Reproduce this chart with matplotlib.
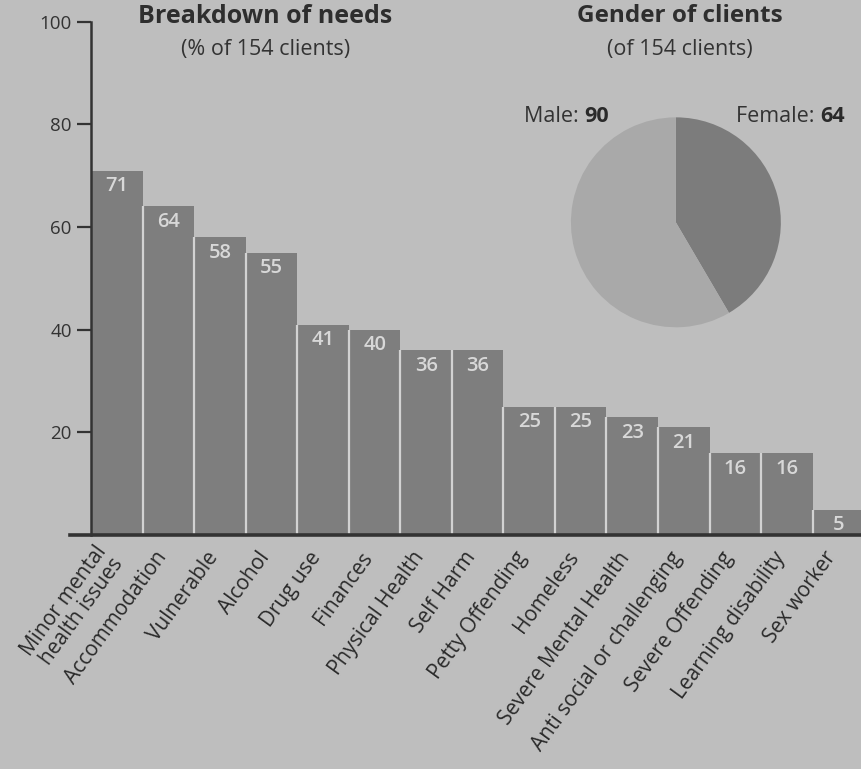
import matplotlib
matplotlib.use("Agg")
import matplotlib.pyplot as plt
import matplotlib.transforms as mtrans

# ---- data ----
categories = ["Minor mental\nhealth issues", "Accommodation", "Vulnerable", "Alcohol",
              "Drug use", "Finances", "Physical Health", "Self Harm", "Petty Offending",
              "Homeless", "Severe Mental Health", "Anti social or challenging",
              "Severe Offending", "Learning disability", "Sex worker"]
needs = [71, 64, 58, 55, 41, 40, 36, 36, 25, 25, 23, 21, 16, 16, 5]
y_ticks = [20, 40, 60, 80, 100]

gender_labels = ["Female", "Male"]
gender_counts = [64, 90]

# ---- style ----
plt.rcParams['font.family'] = ['Open Sans', 'DejaVu Sans']
BG = "#bebebe"
BAR = "#7e7e7e"
DARK = "#333333"
SEP = "#d2d2d2"

fig = plt.figure(figsize=(8.61, 7.69), dpi=100, facecolor=BG)

# ---- bar chart ----
ax = fig.add_axes([0.106, 0.304, 0.894, 0.668])
ax.set_facecolor(BG)
x = list(range(len(needs)))
ax.bar(x, needs, width=1.0, color=BAR, linewidth=0, zorder=2)
# light separators between neighbouring bars
for i in range(len(needs) - 1):
    ax.vlines(i + 0.5, 0, min(needs[i], needs[i + 1]), color=SEP, lw=1.6, zorder=3)
ax.set_xlim(-0.5, 14.44)
ax.set_ylim(0, 100)

for xi, v in zip(x, needs):
    ax.annotate(str(v), xy=(xi, v), xytext=(0, -4), textcoords="offset points",
                ha="center", va="top", fontsize=14.5, fontweight="semibold",
                color="#d8d8d8", zorder=3)

for s in ["top", "right", "bottom"]:
    ax.spines[s].set_visible(False)
ax.spines["left"].set_color(DARK)
ax.spines["left"].set_linewidth(1.8)
ax.spines["left"].set_zorder(5)
ax.axhline(0, xmin=-0.028, xmax=1.0, color=DARK, lw=2.6, clip_on=False, zorder=4)

ax.set_yticks(y_ticks)
ax.tick_params(axis="y", direction="out", length=10, width=1.6, color=DARK,
               labelsize=13.5, labelcolor=DARK, pad=4)
ax.set_xticks(x)
ax.set_xticklabels(categories)
ax.tick_params(axis="x", length=0, pad=12, labelsize=15, labelcolor="#2a2a2a")
shift = mtrans.ScaledTranslation(-6 / 100, -2 / 100, fig.dpi_scale_trans)
for i, lab in enumerate(ax.get_xticklabels()):
    lab.set_rotation(54)
    lab.set_rotation_mode("anchor")
    lab.set_ha("right")
    lab.set_va("center")
    lab.set_multialignment("right")
    lab.set_linespacing(0.95)
    lab.set_transform(lab.get_transform() + shift)

# ---- titles ----
fig.text(0.308, 0.979, "Breakdown of needs", ha="center", va="center",
         fontsize=18, fontweight="bold", color="#2e2e2e")
fig.text(0.308, 0.935, "(% of 154 clients)", ha="center", va="center",
         fontsize=15.5, color="#333333")
fig.text(0.790, 0.979, "Gender of clients", ha="center", va="center",
         fontsize=17.5, fontweight="bold", color="#2e2e2e")
fig.text(0.790, 0.935, "(of 154 clients)", ha="center", va="center",
         fontsize=15.5, color="#333333")

# ---- pie ----
pax = fig.add_axes([0.785 - 0.122, 0.711 - 0.1366, 0.244, 0.273])
pax.pie(gender_counts, colors=["#7c7c7c", "#a9a9a9"], startangle=90,
        counterclock=False, wedgeprops=dict(linewidth=0))
pax.set_xlim(-1, 1)
pax.set_ylim(-1, 1)
pax.set_aspect("equal")
pax.axis("off")

t1 = fig.text(0.609, 0.848, f"{gender_labels[1]}: ", ha="left", va="center",
              fontsize=15.5, color="#333333")
fig.canvas.draw()
ax.annotate(str(gender_counts[1]), xy=(1, 0.5), xycoords=t1, ha="left", va="center",
            fontsize=15.5, fontweight="bold", color="#2a2a2a")
t2 = fig.text(0.855, 0.848, f"{gender_labels[0]}: ", ha="left", va="center",
              fontsize=15.5, color="#333333")
ax.annotate(str(gender_counts[0]), xy=(1, 0.5), xycoords=t2, ha="left", va="center",
            fontsize=15.5, fontweight="bold", color="#2a2a2a")

fig.savefig("out.png", dpi=100, facecolor=BG)
